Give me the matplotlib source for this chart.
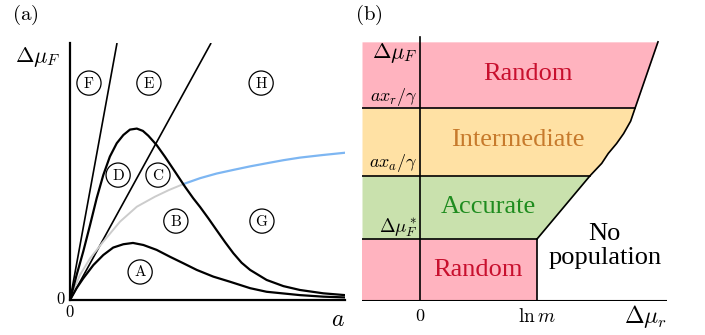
import numpy as np
import matplotlib
matplotlib.use("Agg")
import matplotlib.pyplot as plt

plt.rcParams['mathtext.fontset'] = 'cm'
plt.rcParams['font.family'] = ['Liberation Serif', 'DejaVu Serif']

# ---- panel (a) data (axes run 0..1) ----
upper_x = [0.0, 0.024, 0.048, 0.073, 0.097, 0.121, 0.145, 0.170, 0.194, 0.218,
           0.243, 0.265, 0.285, 0.315, 0.345, 0.382, 0.418, 0.448, 0.473, 0.503,
           0.533, 0.564, 0.594, 0.624, 0.655, 0.715, 0.776, 0.836, 0.921, 1.0]
upper_y = [0.0, 0.097, 0.188, 0.292, 0.396, 0.486, 0.558, 0.610, 0.642, 0.663,
           0.667, 0.658, 0.639, 0.603, 0.558, 0.499, 0.441, 0.396, 0.362, 0.318,
           0.272, 0.225, 0.182, 0.145, 0.117, 0.078, 0.054, 0.039, 0.026, 0.019]

lower_x = [0.0, 0.024, 0.048, 0.085, 0.121, 0.157, 0.194, 0.229, 0.267, 0.315,
           0.364, 0.412, 0.461, 0.521, 0.582, 0.655, 0.715, 0.836, 0.921, 1.0]
lower_y = [0.0, 0.046, 0.084, 0.136, 0.175, 0.204, 0.217, 0.222, 0.214, 0.195,
           0.168, 0.143, 0.117, 0.091, 0.071, 0.046, 0.032, 0.019, 0.013, 0.010]

gray_x = [0.0, 0.015, 0.036, 0.073, 0.121, 0.182, 0.243, 0.309, 0.360, 0.412]
gray_y = [0.0, 0.043, 0.097, 0.162, 0.227, 0.305, 0.363, 0.402, 0.428, 0.451]
blue_x = [0.412, 0.473, 0.533, 0.593, 0.655, 0.715, 0.776, 0.836, 0.918, 1.0]
blue_y = [0.451, 0.474, 0.492, 0.506, 0.520, 0.532, 0.544, 0.554, 0.564, 0.573]

# straight lines through the origin, x where they reach the top
line_tops = [0.171, 0.513]

region_labels = ['F', 'E', 'H', 'D', 'C', 'B', 'G', 'A']
region_x = [0.069, 0.287, 0.695, 0.175, 0.320, 0.385, 0.698, 0.255]
region_y = [0.844, 0.844, 0.844, 0.486, 0.486, 0.307, 0.307, 0.109]

# ---- panel (b) data ----
y_star, y_a, y_r, y_top = 1.0, 2.02, 3.11, 4.18
x_left, x_lnm = -0.496, 1.0
bound_green_x = [1.0, 1.453]
bound_green_y = [1.0, 2.02]
bound_yellow_x = [1.453, 1.553, 1.609, 1.680, 1.740, 1.800, 1.838]
bound_yellow_y = [2.02, 2.22, 2.38, 2.54, 2.70, 2.90, 3.11]
bound_pink_x = [1.838, 2.034]
bound_pink_y = [3.11, 4.18]

pink = '#ffb3bf'
yellow = '#ffe1a4'
green = '#c9e1ad'

fig = plt.figure(figsize=(7.05, 3.35), dpi=100)
W, H = 705, 335

# ---------------- panel (a) ----------------
ax1 = fig.add_axes([70 / W, 1 - 300 / H, 275 / W, 257 / H])
ax1.set_xlim(0, 1)
ax1.set_ylim(0, 1)
for s in ['top', 'right']:
    ax1.spines[s].set_visible(False)
for s in ['left', 'bottom']:
    ax1.spines[s].set_linewidth(1.6)
ax1.set_xticks([])
ax1.set_yticks([])

for xt in line_tops:
    ax1.plot([0, xt], [0, 1], color='black', lw=1.2, solid_capstyle='butt')
ax1.plot(gray_x, gray_y, color='#cccccc', lw=1.4)
ax1.plot(blue_x, blue_y, color='#7db6f2', lw=1.6)
ax1.plot(upper_x, upper_y, color='black', lw=1.6)
ax1.plot(lower_x, lower_y, color='black', lw=1.6)

for lab, x, y in zip(region_labels, region_x, region_y):
    ax1.text(x, y, r'$\mathrm{%s}$' % lab, ha='center', va='center', fontsize=11,
             bbox=dict(boxstyle='circle,pad=0.3', fc='none', ec='black', lw=0.9))

ax1.text(-0.116, 0.945, r'$\Delta\mu_F$', fontsize=16, ha='center', va='center',
         transform=ax1.transAxes, clip_on=False)
ax1.text(-0.035, 0.0, r'$0$', fontsize=12, ha='center', va='center', clip_on=False)
ax1.text(0.0, -0.05, r'$0$', fontsize=12, ha='center', va='center', clip_on=False)
ax1.text(0.975, -0.08, r'$a$', fontsize=17, ha='center', va='center', clip_on=False)
fig.text(12 / W, 1 - 15 / H, r'$\mathrm{(a)}$', fontsize=15, ha='left', va='center')

# ---------------- panel (b) ----------------
x_right = 2.111
ax2 = fig.add_axes([362 / W, 1 - 301 / H, 305 / W, 266 / H])
ax2.set_xlim(x_left, x_right)
ax2.set_ylim(0, 266 / 62)
ax2.axis('off')

ax2.fill_between([x_left, x_lnm], 0, y_star, color=pink, lw=0)
ax2.fill_betweenx(bound_green_y, x_left, bound_green_x, color=green, lw=0)
ax2.fill_betweenx(bound_yellow_y, x_left, bound_yellow_x, color=yellow, lw=0)
ax2.fill_betweenx(bound_pink_y, x_left, bound_pink_x, color=pink, lw=0)

lw_b = 1.2
ax2.plot([x_left, x_lnm], [y_star, y_star], color='black', lw=lw_b)
ax2.plot([x_left, bound_green_x[-1]], [y_a, y_a], color='black', lw=lw_b)
ax2.plot([x_left, bound_yellow_x[-1]], [y_r, y_r], color='black', lw=lw_b)
ax2.plot([x_lnm, x_lnm], [0, y_star], color='black', lw=lw_b)
ax2.plot(bound_green_x + bound_yellow_x[1:] + bound_pink_x[1:],
         bound_green_y + bound_yellow_y[1:] + bound_pink_y[1:], color='black', lw=lw_b)
ax2.plot([0, 0], [0, 264 / 62], color='black', lw=lw_b)
ax2.plot([x_left, x_right], [0, 0], color='black', lw=1.5)

ax2.text(0.923, 3.66, 'Random', color='#c8102e', fontsize=19, ha='center', va='center')
ax2.text(0.838, 2.60, 'Intermediate', color='#c77a2c', fontsize=19, ha='center', va='center')
ax2.text(0.581, 1.52, 'Accurate', color='#1f8c1f', fontsize=19, ha='center', va='center')
ax2.text(0.496, 0.50, 'Random', color='#c8102e', fontsize=19, ha='center', va='center')
ax2.text(1.58, 0.89, 'No\npopulation', color='black', fontsize=19, ha='center', va='center',
         linespacing=1.15)

ax2.text(-0.025, 4.0, r'$\Delta\mu_F$', fontsize=16, ha='right', va='center')
ax2.text(-0.02, 3.29, r'$ax_r/\gamma$', fontsize=13, ha='right', va='center')
ax2.text(-0.02, 2.23, r'$ax_a/\gamma$', fontsize=13, ha='right', va='center')
ax2.text(-0.02, 1.19, r'$\Delta\mu^*_F$', fontsize=13.5, ha='right', va='center')

ax2.text(0.0, -0.25, r'$0$', fontsize=13, ha='center', va='center', clip_on=False)
ax2.text(x_lnm, -0.25, r'$\ln m$', fontsize=14, ha='center', va='center', clip_on=False)
ax2.text(x_right, -0.25, r'$\Delta\mu_r$', fontsize=17, ha='right', va='center', clip_on=False)
fig.text(355 / W, 1 - 15 / H, r'$\mathrm{(b)}$', fontsize=15, ha='left', va='center')

fig.savefig('out.png', dpi=100)
